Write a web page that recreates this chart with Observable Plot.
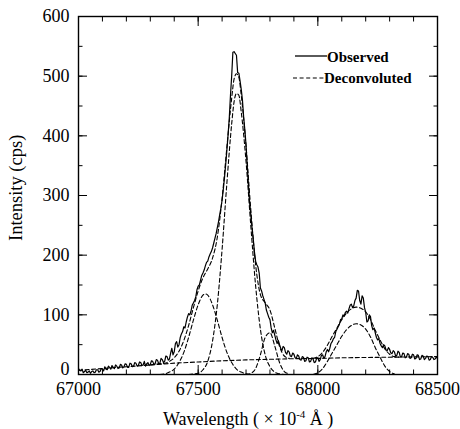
<!DOCTYPE html>
<html><head><meta charset="utf-8">
<script src="https://cdn.jsdelivr.net/npm/d3@7"></script>
<script src="https://cdn.jsdelivr.net/npm/@observablehq/plot@0.6"></script>
<style>
body{margin:0;background:#fff;}
#chart{width:460px;height:429px;}
</style></head><body><div id="chart"></div>
<script>
// ---- data ----
const xTicksMajor = [67000, 67500, 68000, 68500];
const xTicksMinor = [67000,67100,67200,67300,67400,67500,67600,67700,67800,67900,68000,68100,68200,68300,68400,68500];
const yTicksMajor = [100, 200, 300, 400, 500, 600];
const yTickZero = [0];
const yTicksMinor = [0,50,100,150,200,250,300,350,400,450,500,550,600];

// observed spectrum, sampled every 5 units from 67000 to 68500
const obsStart = 67000, obsStep = 5;
const observed = [
  10,7,6,9,3,5,7,3,4,6,2,5,6,3,4,8,8,4,5,10,
  9,6,13,9,8,14,12,9,15,12,10,16,14,10,11,17,16,11,13,18,
  17,12,12,19,18,13,14,20,19,14,15,21,20,15,16,22,14,18,20,15,
  17,23,22,17,18,25,24,18,19,27,25,20,22,31,30,24,26,36,44,33,
  38,52,55,46,50,62,68,72,80,78,88,96,102,100,106,116,120,124,130,142,
  148,150,158,166,170,175,182,188,190,197,202,206,212,220,228,236,246,256,268,279,
  292,310,330,352,376,402,430,468,500,540,541,538,535,506,505,492,478,460,432,410,
  385,350,318,288,268,246,228,206,190,184,180,170,145,140,132,126,120,108,102,96,
  92,78,70,74,66,58,52,57,50,44,40,47,45,37,34,40,38,31,30,36,
  34,28,27,33,31,25,24,30,29,22,23,29,28,21,22,28,26,20,21,27,
  28,22,25,32,33,27,30,38,42,38,44,52,55,60,62,72,76,80,84,92,
  93,100,98,104,106,103,110,116,118,112,115,124,128,141,140,124,118,132,128,112,
  104,88,90,100,97,82,75,78,70,62,58,60,52,48,45,50,48,41,40,45,
  42,36,35,40,38,31,32,39,37,29,30,36,35,28,29,35,34,27,28,34,
  33,26,27,33,32,25,26,32,31,25,27,31,30,24,25,30,29,25,26,29,
  27
];

// deconvoluted baseline
const baseW = [67000,67100,67200,67300,67400,67500,67600,67700,67800,67900,68000,68100,68200,68300,68400,68500];
const baseV = [7,10,13,16,19,21,23,24.5,25.5,26.5,27,28,28.5,29,29.5,30];

// deconvoluted components
const peakAW = [67340,67360,67380,67400,67420,67440,67460,67480,67500,67520,67530,67540,67560,67580,67600,67620,67640,67660,67680,67700,67720];
const peakAV = [0,1,4,9,20,37,62,91,117,133,135,133,117,91,62,37,20,9,4,1,0];

const peakBW = [67460,67480,67500,67520,67540,67560,67580,67600,67620,67640,67650,67660,67670,67680,67700,67720,67740,67760,67780,67800,67820,67840,67860];
const peakBV = [0,1,2,8,22,56,117,210,321,420,457,471,468,440,357,249,149,76,33,13,4,1,0];

const peakCW = [67700,67720,67740,67760,67780,67800,67820,67840,67860,67880];
const peakCV = [0,2,10,33,62,70,48,20,5,1];

const peakDW = [67980,68000,68020,68040,68060,68080,68100,68120,68140,68160,68180,68200,68220,68240,68260,68280,68300,68320];
const peakDV = [0,3,10,22,36,50,64,75,82,85,83,76,63,45,29,14,5,1];

// deconvoluted total (fit), two stretches where it rises above the baseline
const fit1W = [67300,67320,67340,67360,67380,67400,67420,67440,67460,67480,67500,67520,67540,67560,67580,67600,67620,67640,67650,67660,67670,67680,67700,67720,67740,67760,67780,67800,67820,67840,67860,67880];
const fit1V = [16,17,18,19,22,28,39,57,82,112,140,162,177,195,230,295,381,463,495,504,498,468,383,276,184,134,120,108,78,47,31,27];
const fit2W = [67980,68000,68020,68040,68060,68080,68100,68120,68140,68160,68180,68200,68220,68240,68260,68280,68300,68320,68340];
const fit2V = [27,30,37,49,64,78,92,103,110,113,111,105,92,74,58,43,34,30,29];

const legendLabels = ["Observed", "Deconvoluted"];
const xTitleParts = ["Wavelength ( \u00d7 10", "-4", " \u00c5 )"];
const yTitle = "Intensity (cps)";

// ---- build tables ----
const obsData = observed.map((v, i) => ({w: obsStart + i * obsStep, v}));
const pair = (W, V, id) => W.map((w, i) => ({w, v: V[i], id}));
const baseData = pair(baseW, baseV, "base");
const compData = [
  ...pair(peakAW, peakAV, "A"), ...pair(peakBW, peakBV, "B"),
  ...pair(peakCW, peakCV, "C"), ...pair(peakDW, peakDV, "D")
];
const fitData = [...pair(fit1W, fit1V, "f1"), ...pair(fit2W, fit2V, "f2")];

const font = "'Liberation Serif', 'Times New Roman', serif";
const dash = "4,2.6";

const plot = Plot.plot({
  width: 460, height: 429,
  marginLeft: 78, marginRight: 23, marginTop: 16, marginBottom: 55,
  x: {domain: [67000, 68500]},
  y: {domain: [0, 600]},
  style: {fontFamily: font, fontSize: "18px", color: "#000", background: "#fff"},
  marks: [
    Plot.line(baseData, {x: "w", y: "v", stroke: "#000", strokeWidth: 1.1, strokeDasharray: dash}),
    Plot.line(compData, {x: "w", y: "v", z: "id", curve: "monotone-x", stroke: "#000", strokeWidth: 1.1, strokeDasharray: dash}),
    Plot.line(fitData, {x: "w", y: "v", z: "id", curve: "monotone-x", stroke: "#000", strokeWidth: 1.1, strokeDasharray: dash}),
    Plot.line(obsData, {x: "w", y: "v", stroke: "#000", strokeWidth: 1.2}),
    // inward ticks on all four sides
    Plot.axisX({ticks: xTicksMinor, anchor: "bottom", tickSize: -4.5, fill: "none", label: null}),
    Plot.axisX({ticks: xTicksMajor, anchor: "bottom", tickSize: -9, fill: "none", label: null}),
    Plot.axisX({ticks: xTicksMinor, anchor: "top", tickSize: -4.5, fill: "none", label: null}),
    Plot.axisX({ticks: xTicksMajor, anchor: "top", tickSize: -9, fill: "none", label: null}),
    Plot.axisY({ticks: yTicksMinor, anchor: "left", tickSize: -4.5, fill: "none", label: null}),
    Plot.axisY({ticks: [...yTickZero, ...yTicksMajor], anchor: "left", tickSize: -9, fill: "none", label: null}),
    Plot.axisY({ticks: yTicksMinor, anchor: "right", tickSize: -4.5, fill: "none", label: null}),
    Plot.axisY({ticks: [...yTickZero, ...yTicksMajor], anchor: "right", tickSize: -9, fill: "none", label: null}),
    // tick labels
    Plot.axisX({ticks: xTicksMajor, anchor: "bottom", tickSize: 0, tickPadding: 8, tickFormat: d3.format("d"), label: null}),
    Plot.axisY({ticks: yTicksMajor, anchor: "left", tickSize: 0, tickPadding: 9, tickFormat: d3.format("d"), label: null}),
    Plot.axisY({ticks: yTickZero, anchor: "left", tickSize: 0, tickPadding: 9, dy: -5, tickFormat: d3.format("d"), label: null}),
    Plot.frame({stroke: "#000", strokeWidth: 1.4})
  ]
});

document.getElementById("chart").appendChild(plot);

const svg = d3.select(plot);
// axis titles
const tg = svg.append("g").attr("font-family", font).attr("font-size", 18).attr("fill", "#000").attr("text-anchor", "start");
const xt = tg.append("text").attr("x", 163).attr("y", 424.5);
xt.append("tspan").text(xTitleParts[0]);
xt.append("tspan").attr("font-size", 11).attr("dy", -7).text(xTitleParts[1]);
xt.append("tspan").attr("dy", 7).text(xTitleParts[2]);
tg.append("text").attr("transform", "translate(22,241) rotate(-90)").attr("font-size", 18.5).text(yTitle);

// legend
const lg = svg.append("g").attr("font-family", font).attr("font-weight", "bold")
  .attr("font-size", 15).attr("fill", "#000").attr("text-anchor", "start");
lg.append("line").attr("x1", 295).attr("x2", 327).attr("y1", 56).attr("y2", 56).attr("stroke", "#000").attr("stroke-width", 1.3);
lg.append("text").attr("x", 327).attr("y", 61.5).text(legendLabels[0]);
lg.append("line").attr("x1", 293).attr("x2", 324).attr("y1", 78).attr("y2", 78).attr("stroke", "#000").attr("stroke-width", 1.1).attr("stroke-dasharray", dash);
lg.append("text").attr("x", 324).attr("y", 83).text(legendLabels[1]);
</script>
</body></html>
